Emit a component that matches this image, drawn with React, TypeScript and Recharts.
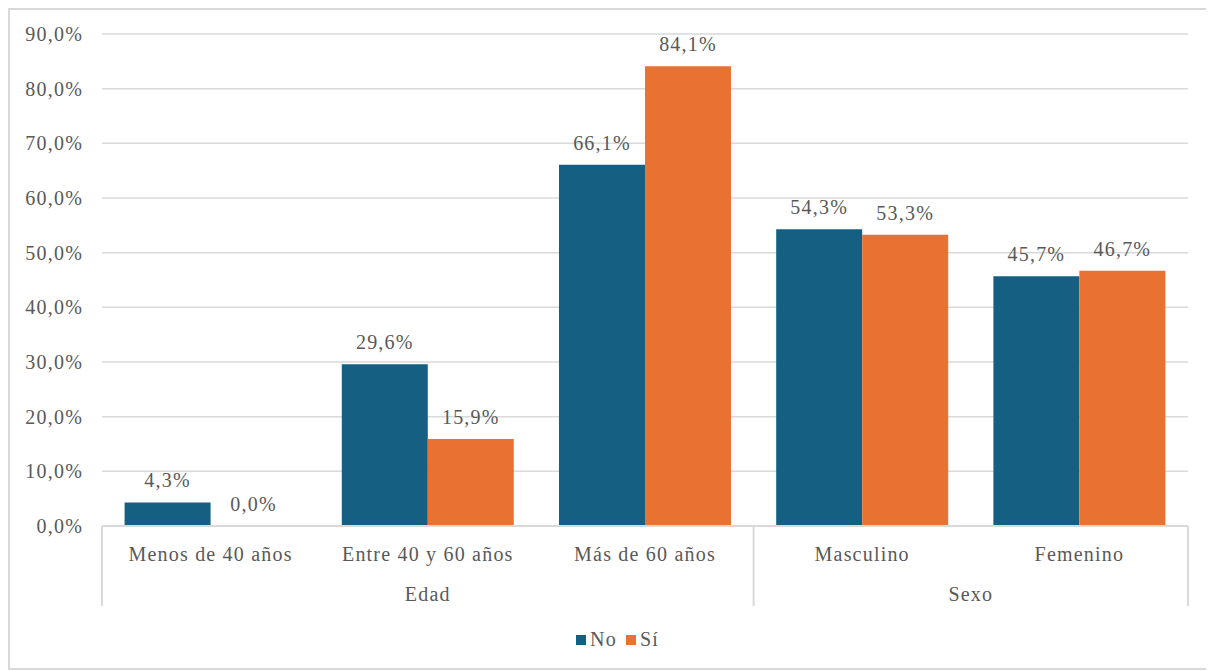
import { BarChart, Bar, XAxis, YAxis, CartesianGrid, Legend, LabelList } from "recharts";

// categorías y grupos (eje de dos niveles)
const categories = ["Menos de 40 años", "Entre 40 y 60 años", "Más de 60 años", "Masculino", "Femenino"];
const groups = ["Edad", "Edad", "Edad", "Sexo", "Sexo"];
const noValues = [4.3, 29.6, 66.1, 54.3, 45.7];
const siValues = [0.0, 15.9, 84.1, 53.3, 46.7];
const yTicks = [0, 10, 20, 30, 40, 50, 60, 70, 80, 90];

const data = categories.map((name, i) => ({
  name,
  group: groups[i],
  no: noValues[i],
  si: siValues[i],
}));

const FONT = "'Liberation Serif', 'Times New Roman', serif";
const TEXT = "#595959";
const GRID = "#d9d9d9";
const BLUE = "#156082";
const ORANGE = "#E97132";

const W = 1196;
const H = 658;
const MARGIN = { top: 24, right: 18, left: 17, bottom: 29 };
const Y_WIDTH = 75;
const BAND = (W - MARGIN.left - Y_WIDTH - MARGIN.right) / categories.length;

const pct = (v: number) => v.toFixed(1).replace(".", ",") + "%";

// tick del eje X: etiqueta de categoría + separadores + etiqueta de grupo
function CategoryTick(props: any) {
  const { x, y, payload, index } = props;
  const i = index as number;
  const isFirstOfGroup = i === 0 || groups[i] !== groups[i - 1];
  const isLast = i === categories.length - 1;
  const members = groups.map((g, k) => (g === groups[i] ? k : -1)).filter((k) => k >= 0);
  const isLabelOwner = members[0] === i;
  const groupCenter = x + ((members[members.length - 1] - members[0]) / 2) * BAND;
  return (
    <g>
      <text x={x} y={y + 28} textAnchor="middle" dominantBaseline="central" fill={TEXT} fontSize={20}>
        {payload.value}
      </text>
      {isFirstOfGroup && <line x1={x - BAND / 2} x2={x - BAND / 2} y1={y} y2={y + 80} stroke={GRID} strokeWidth={2} />}
      {isLast && <line x1={x + BAND / 2} x2={x + BAND / 2} y1={y} y2={y + 80} stroke={GRID} strokeWidth={2} />}
      {isLabelOwner && (
        <text x={groupCenter} y={y + 68} textAnchor="middle" dominantBaseline="central" fill={TEXT} fontSize={20}>
          {groups[i]}
        </text>
      )}
    </g>
  );
}

function LegendContent() {
  const items = [
    { label: "No", color: BLUE },
    { label: "Sí", color: ORANGE },
  ];
  return (
    <div style={{ display: "flex", justifyContent: "center", fontSize: 20, color: TEXT, paddingLeft: 28 }}>
      {items.map((it) => (
        <span key={it.label} style={{ display: "inline-flex", alignItems: "center", marginRight: 9 }}>
          <span style={{ width: 10, height: 10, background: it.color, display: "inline-block", marginRight: 4 }} />
          {it.label}
        </span>
      ))}
    </div>
  );
}

export default function App() {
  return (
    <div className="chart-box" style={{ width: W, height: H, border: `2px solid ${GRID}`, background: "#fff" }}>
      <style>{`.chart-box, .chart-box text { font-family: ${FONT}; letter-spacing: 1.2px; }`}</style>
      <BarChart width={W} height={H} data={data} margin={MARGIN} barCategoryGap="10.4%" barGap={0}>
        <CartesianGrid vertical={false} stroke={GRID} strokeWidth={1.5} />
        <XAxis
          dataKey="name"
          axisLine={{ stroke: GRID, strokeWidth: 2 }}
          tickLine={false}
          tickSize={0}
          tickMargin={0}
          height={90}
          interval={0}
          tick={<CategoryTick />}
        />
        <YAxis
          domain={[0, 90]}
          ticks={yTicks}
          tickFormatter={pct}
          axisLine={false}
          tickLine={false}
          tickSize={0}
          tickMargin={19}
          width={Y_WIDTH}
          tick={{ fill: TEXT, fontSize: 20 }}
        />
        <Legend verticalAlign="bottom" content={<LegendContent />} wrapperStyle={{ top: 618, left: 0, width: W }} />
        <Bar dataKey="no" name="No" fill={BLUE} isAnimationActive={false}>
          <LabelList dataKey="no" position="top" offset={15} formatter={(v: any) => pct(Number(v))} fill={TEXT} fontSize={20} />
        </Bar>
        <Bar
          dataKey="si"
          name="Sí"
          fill={ORANGE}
          isAnimationActive={false}
          minPointSize={(v: any) => (Number(v) === 0 ? 0.01 : 0)}
        >
          <LabelList dataKey="si" position="top" offset={15} formatter={(v: any) => pct(Number(v))} fill={TEXT} fontSize={20} />
        </Bar>
      </BarChart>
    </div>
  );
}
